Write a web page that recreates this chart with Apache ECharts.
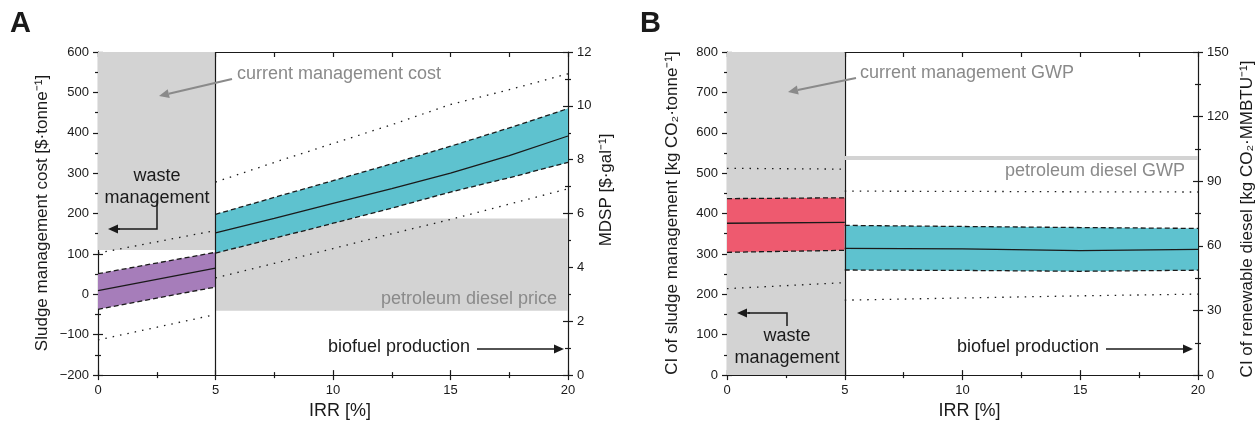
<!DOCTYPE html>
<html>
<head>
<meta charset="utf-8">
<script src="https://cdn.jsdelivr.net/npm/echarts@6/dist/echarts.min.js"></script>
<style>
  html, body { margin: 0; padding: 0; background: #fff; }
  #chart { width: 1259px; height: 425px; }
</style>
</head>
<body>
<div id="chart"></div>
<script>
// IRR [%] positions
const irrWaste = [0, 5];
const irrFuelA = [5, 7.5, 10, 12.5, 15, 17.5, 20];
const irrFuelB = [5, 10, 15, 20];

// Panel A: sludge management cost [$/tonne], waste management side
const costMed = [9, 65];
const costLo = [-37, 18];
const costHi = [51, 104];
const costP5 = [-113, -50];
const costP95 = [102, 158];
const currentCost = [110, 600];

// Panel A: MDSP [$/gal], biofuel production side
const mdspMed = [5.28, 5.82, 6.38, 6.93, 7.50, 8.15, 8.88];
const mdspLo = [4.53, 5.08, 5.64, 6.20, 6.80, 7.33, 7.90];
const mdspHi = [5.97, 6.60, 7.22, 7.85, 8.50, 9.18, 9.90];
const mdspP5 = [3.61, 4.15, 4.70, 5.25, 5.78, 6.35, 6.92];
const mdspP95 = [7.17, 7.90, 8.60, 9.30, 10.05, 10.60, 11.19];
const dieselPrice = [2.39, 5.82];

// Panel B: CI of sludge management [kg CO2/tonne]
const ciWasteMed = [376, 378];
const ciWasteLo = [304, 309];
const ciWasteHi = [437, 439];
const ciWasteP5 = [214, 229];
const ciWasteP95 = [512, 510];
const currentGwp = [0, 800];

// Panel B: CI of renewable diesel [kg CO2/MMBTU]
const ciFuelMed = [58.8, 58.6, 57.8, 58.4];
const ciFuelLo = [48.8, 48.6, 48.2, 48.7];
const ciFuelHi = [69.5, 69.0, 68.5, 68.1];
const ciFuelP5 = [34.8, 35.8, 36.8, 37.6];
const ciFuelP95 = [85.4, 85.3, 85.1, 85.0];
const dieselGwp = 101;

const FONT = '"Liberation Sans", Arial, Helvetica, sans-serif';
const INK = '#1a1a1a';
const GREY = '#d3d3d3';
const GREY_TXT = '#8a8a8a';
const DASH = [5, 3];
const DOT = [1.5, 6];

const pairs = (xs, ys) => xs.map((x, i) => [x, ys[i]]);

// shaded band between lo and hi, drawn as one polygon through the axes
function band(xs, lo, hi, color, xi, yi, extra) {
  return Object.assign({
    type: 'custom', xAxisIndex: xi, yAxisIndex: yi, silent: true, z: 3,
    data: xs.map((x, i) => [x, lo[i], hi[i]]),
    encode: { x: 0, y: [1, 2] },
    renderItem: function (params, api) {
      if (params.dataIndex !== 0) return;
      const top = xs.map((x, i) => api.coord([x, hi[i]]));
      const bot = xs.map((x, i) => api.coord([x, lo[i]])).reverse();
      return {
        type: 'polygon',
        shape: { points: top.concat(bot) },
        style: { fill: color }
      };
    }
  }, extra || {});
}

function line(xs, ys, xi, yi, type, width) {
  return {
    type: 'line', xAxisIndex: xi, yAxisIndex: yi, symbol: 'none', silent: true, z: 4,
    data: pairs(xs, ys),
    lineStyle: { color: INK, width: width || 1.3, type: type }
  };
}

function xAxes(gi) {
  const common = { type: 'value', gridIndex: gi, min: 0, max: 20, splitLine: { show: false } };
  return [
    Object.assign({}, common, {
      interval: 5, position: 'bottom',
      axisLine: { onZero: false, lineStyle: { color: INK, width: 1.2 } },
      axisTick: { length: 5, lineStyle: { color: INK, width: 1.2 } },
      minorTick: { show: true, splitNumber: 2, length: 3, lineStyle: { color: INK, width: 1.2 } },
      axisLabel: { color: INK, fontSize: 13, margin: 9, fontFamily: FONT },
      name: 'IRR [%]', nameLocation: 'middle', nameGap: 21,
      nameTextStyle: { color: INK, fontSize: 18, fontFamily: FONT, padding: [0, 0, 0, 14] }
    }),
    Object.assign({}, common, {
      interval: 5, position: 'bottom',
      axisLine: { show: false, onZero: false },
      axisTick: { inside: true, length: 5, lineStyle: { color: INK, width: 1.2 } },
      minorTick: { show: true, splitNumber: 2, length: 3, lineStyle: { color: INK, width: 1.2 } },
      axisLabel: { show: false }
    }),
    Object.assign({}, common, {
      interval: 2.5, position: 'top',
      axisLine: { onZero: false, lineStyle: { color: INK, width: 1.2 } },
      axisTick: { inside: true, length: 5, lineStyle: { color: INK, width: 1.2 } },
      axisLabel: { show: false }
    })
  ];
}

function yAxes(gi, lmin, lmax, lint, rmin, rmax, rint) {
  const mk = (pos, min, max, interval, inside) => ({
    type: 'value', gridIndex: gi, position: pos, min: min, max: max, interval: interval,
    splitLine: { show: false },
    axisLine: { show: !inside, onZero: false, lineStyle: { color: INK, width: 1.2 } },
    axisTick: { inside: inside, length: 5, lineStyle: { color: INK, width: 1.2 } },
    minorTick: { show: true, splitNumber: 2, length: 3, lineStyle: { color: INK, width: 1.2 } },
    axisLabel: {
      show: !inside, color: INK, fontSize: 13, margin: 9, fontFamily: FONT,
      formatter: v => (v < 0 ? '\u2212' + Math.abs(v) : String(v))
    }
  });
  return [
    mk('left', lmin, lmax, lint, false),
    mk('left', lmin, lmax, lint, true),
    mk('right', rmin, rmax, rint, false),
    mk('right', rmin, rmax, rint, true)
  ];
}

function arrow(x1, y1, x2, y2, color, lw) {
  const a = Math.atan2(y2 - y1, x2 - x1), L = 10, W = 4.5;
  const bx = x2 - L * Math.cos(a), by = y2 - L * Math.sin(a);
  return [
    { type: 'line', silent: true, z: 100, shape: { x1: x1, y1: y1, x2: bx, y2: by }, style: { stroke: color, lineWidth: lw } },
    { type: 'polygon', silent: true, z: 100, shape: { points: [[x2, y2], [bx - W * Math.sin(a), by + W * Math.cos(a)], [bx + W * Math.sin(a), by - W * Math.cos(a)]] }, style: { fill: color } }
  ];
}

function txt(x, y, text, opts) {
  return {
    type: 'text', x: x, y: y, silent: true, z: 100, rotation: (opts && opts.rotation) || 0,
    style: Object.assign({
      text: text, fontSize: 18, fontFamily: FONT, fill: INK,
      align: 'left', verticalAlign: 'middle'
    }, (opts && opts.style) || {})
  };
}

const divider = () => ({
  silent: true, symbol: 'none', label: { show: false },
  lineStyle: { color: INK, width: 1.2, type: 'solid' },
  data: [{ xAxis: 5 }]
});

const series = [];
// Panel A, waste management band (left axis)
series.push(band(irrWaste, costLo, costHi, '#a67dba', 0, 0, {
  markArea: {
    silent: true, itemStyle: { color: GREY },
    data: [[{ coord: [0, currentCost[0]] }, { coord: [5, currentCost[1]] }]]
  },
  markLine: divider()
}));
series.push(line(irrWaste, costHi, 0, 0, DASH), line(irrWaste, costLo, 0, 0, DASH),
  line(irrWaste, costMed, 0, 0, 'solid'),
  line(irrWaste, costP5, 0, 0, DOT), line(irrWaste, costP95, 0, 0, DOT));
// Panel A, biofuel band (right axis)
series.push(band(irrFuelA, mdspLo, mdspHi, '#5ec2cf', 0, 2, {
  markArea: {
    silent: true, itemStyle: { color: GREY },
    data: [[{ coord: [5, dieselPrice[0]] }, { coord: [20, dieselPrice[1]] }]]
  }
}));
series.push(line(irrFuelA, mdspHi, 0, 2, DASH), line(irrFuelA, mdspLo, 0, 2, DASH),
  line(irrFuelA, mdspMed, 0, 2, 'solid'),
  line(irrFuelA, mdspP5, 0, 2, DOT), line(irrFuelA, mdspP95, 0, 2, DOT));

// Panel B, waste management band (left axis)
series.push(band(irrWaste, ciWasteLo, ciWasteHi, '#ee5a6f', 3, 4, {
  markArea: {
    silent: true, itemStyle: { color: GREY },
    data: [[{ coord: [0, currentGwp[0]] }, { coord: [5, currentGwp[1]] }]]
  },
  markLine: divider()
}));
series.push(line(irrWaste, ciWasteHi, 3, 4, DASH), line(irrWaste, ciWasteLo, 3, 4, DASH),
  line(irrWaste, ciWasteMed, 3, 4, 'solid'),
  line(irrWaste, ciWasteP5, 3, 4, DOT), line(irrWaste, ciWasteP95, 3, 4, DOT));
// Panel B, biofuel band (right axis)
series.push(band(irrFuelB, ciFuelLo, ciFuelHi, '#5ec2cf', 3, 6, {
  markLine: {
    silent: true, symbol: 'none', label: { show: false },
    lineStyle: { color: GREY, width: 4, type: 'solid' },
    data: [[{ coord: [5, dieselGwp] }, { coord: [20, dieselGwp] }]]
  }
}));
series.push(line(irrFuelB, ciFuelHi, 3, 6, DASH), line(irrFuelB, ciFuelLo, 3, 6, DASH),
  line(irrFuelB, ciFuelMed, 3, 6, 'solid'),
  line(irrFuelB, ciFuelP5, 3, 6, DOT), line(irrFuelB, ciFuelP95, 3, 6, DOT));

const graphics = [
  txt(10, 24, 'A', { style: { fontSize: 29, fontWeight: 'bold' } }),
  txt(640, 24, 'B', { style: { fontSize: 29, fontWeight: 'bold' } }),
  // axis titles
  txt(42, 213, 'Sludge management cost [$\u00b7tonne\u207b\u00b9]', { rotation: Math.PI / 2, style: { align: 'center', fontSize: 17 } }),
  txt(606, 190, 'MDSP [$\u00b7gal\u207b\u00b9]', { rotation: Math.PI / 2, style: { align: 'center', fontSize: 17 } }),
  txt(672, 213, 'CI of sludge management [kg CO\u2082\u00b7tonne\u207b\u00b9]', { rotation: Math.PI / 2, style: { align: 'center', fontSize: 17 } }),
  txt(1247, 219, 'CI of renewable diesel [kg CO\u2082\u00b7MMBTU\u207b\u00b9]', { rotation: Math.PI / 2, style: { align: 'center', fontSize: 17 } }),
  // panel A annotations
  txt(237, 74, 'current management cost', { style: { fill: GREY_TXT } }),
  ...arrow(232, 79, 159, 96, GREY_TXT, 2),
  txt(157, 187, 'waste\nmanagement', { style: { align: 'center', lineHeight: 22 } }),
  { type: 'polyline', silent: true, z: 100, shape: { points: [[157, 201], [157, 229], [118, 229]] }, style: { stroke: INK, lineWidth: 1.5, fill: null } },
  ...arrow(120, 229, 108, 229, INK, 1.5),
  txt(557, 299, 'petroleum diesel price', { style: { fill: GREY_TXT, align: 'right' } }),
  txt(328, 347, 'biofuel production'),
  ...arrow(477, 349, 564, 349, INK, 1.5),
  // panel B annotations
  txt(860, 73, 'current management GWP', { style: { fill: GREY_TXT } }),
  ...arrow(856, 78, 788, 92, GREY_TXT, 2),
  txt(1185, 171, 'petroleum diesel GWP', { style: { fill: GREY_TXT, align: 'right' } }),
  txt(787, 347, 'waste\nmanagement', { style: { align: 'center', lineHeight: 22 } }),
  { type: 'polyline', silent: true, z: 100, shape: { points: [[787, 326], [787, 313], [748, 313]] }, style: { stroke: INK, lineWidth: 1.5, fill: null } },
  ...arrow(750, 313, 737, 313, INK, 1.5),
  txt(957, 347, 'biofuel production'),
  ...arrow(1106, 349, 1193, 349, INK, 1.5)
];

const chart = echarts.init(document.getElementById('chart'), null, { renderer: 'canvas' });
chart.setOption({
  animation: false,
  backgroundColor: '#fff',
  textStyle: { fontFamily: FONT },
  grid: [
    { left: 98, top: 52, width: 470, height: 326 },
    { left: 727, top: 52, width: 471, height: 326 }
  ],
  xAxis: [...xAxes(0), ...xAxes(1)],
  yAxis: [...yAxes(0, -200, 600, 100, 0, 12, 2), ...yAxes(1, 0, 800, 100, 0, 150, 30)],
  series: series,
  graphic: graphics
});
window.addEventListener('resize', () => chart.resize());
</script>
</body>
</html>
